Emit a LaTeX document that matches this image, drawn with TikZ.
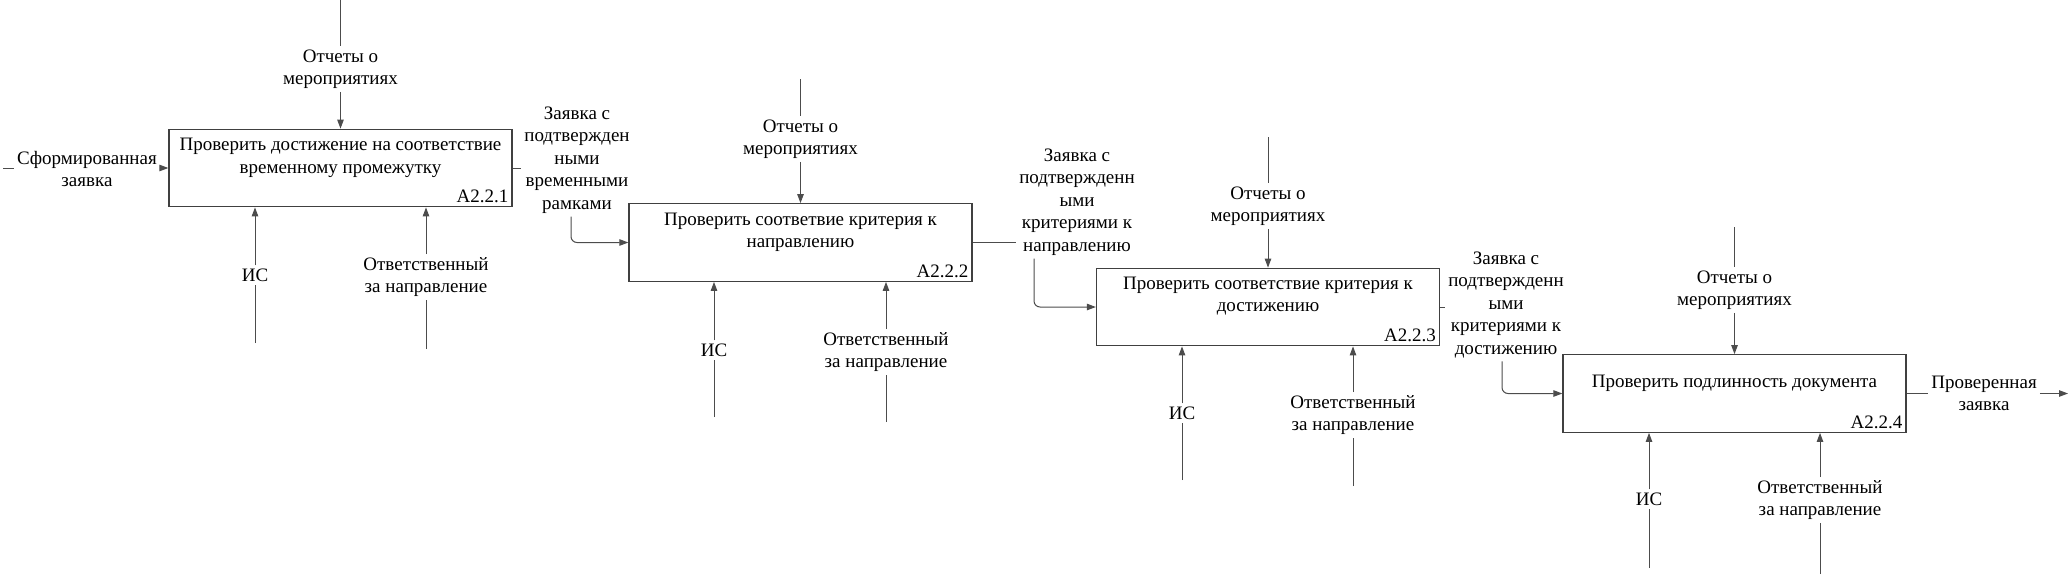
\documentclass[tikz,border=0pt]{standalone}
\usepackage{fontspec}
\setmainfont{Liberation Serif}
\newfontfamily\tnr{Liberation Serif}
\usetikzlibrary{arrows.meta}
\begin{document}
\begin{tikzpicture}[x=1pt,y=-1pt,
  every node/.style={font=\tnr\fontsize{19}{22.5}\selectfont},
  proc/.style={draw=black!75, line width=1.3pt, minimum width=343pt, minimum height=77.5pt, inner sep=0pt},
  lbl/.style={align=center, inner sep=3pt},
  conn/.style={draw=black!70, line width=1pt},
  arr/.style={conn, -{Triangle[length=9pt,width=6.5pt]}},
  ident/.style={anchor=south east, inner sep=4pt}]
\useasboundingbox (0,0) rectangle (2070,574);

% boxes
\node[proc] (b1) at (340.5,168) {};
\node[proc] (b2) at (800.5,242.5) {};
\node[proc] (b3) at (1268,307) {};
\node[proc] (b4) at (1734.5,393.5) {};

\node[lbl] (t1) at ([yshift=10pt]b1.center) {Проверить достижение на соответствие\\временному промежутку};
\node[lbl] (t2) at ([yshift=10pt]b2.center) {Проверить соответвие критерия к\\направлению};
\node[lbl] (t3) at ([yshift=11pt]b3.center) {Проверить соответствие критерия к\\достижению};
\node[lbl] (t4) at ([yshift=10pt]b4.center) {Проверить подлинность документа};

\node[ident] (id1) at (b1.south east) {A2.2.1};
\node[ident] (id2) at (b2.south east) {A2.2.2};
\node[ident] (id3) at (b3.south east) {A2.2.3};
\node[ident] (id4) at (b4.south east) {A2.2.4};

% controls (top)
\coordinate (c1) at (340.5,0);
\coordinate (c2) at (800.5,79);
\coordinate (c3) at (1268,137);
\coordinate (c4) at (1734.5,227);
\node[lbl] (m1) at (340.5,69) {Отчеты о\\мероприятиях};
\node[lbl] (m2) at (800.5,139) {Отчеты о\\мероприятиях};
\node[lbl] (m3) at (1268,206) {Отчеты о\\мероприятиях};
\node[lbl] (m4) at (1734.5,290) {Отчеты о\\мероприятиях};
\foreach \i in {1,2,3,4}{
  \draw[conn] (c\i) -- (m\i.north);
  \draw[arr] (m\i.south) -- (b\i.north);
}

% mechanisms (bottom)
\coordinate (s1) at (255,343);
\coordinate (s2) at (714,417);
\coordinate (s3) at (1182,480);
\coordinate (s4) at (1649,568);
\node[lbl] (is1) at (255,275) {ИС};
\node[lbl] (is2) at (714,350) {ИС};
\node[lbl] (is3) at (1182,413) {ИС};
\node[lbl] (is4) at (1649,499) {ИС};
\coordinate (r1) at (426,349);
\coordinate (r2) at (886,422);
\coordinate (r3) at (1353,486);
\coordinate (r4) at (1820,574);
\node[lbl] (o1r) at (426,277) {Ответственный\\за направление};
\node[lbl] (o2r) at (886,352) {Ответственный\\за направление};
\node[lbl] (o3r) at (1353,415) {Ответственный\\за направление};
\node[lbl] (o4r) at (1820,500) {Ответственный\\за направление};
\foreach \i in {1,2,3,4}{
  \draw[conn] (s\i) -- (is\i.south);
  \draw[arr] (is\i.north) -- (is\i.north |- b\i.south);
  \draw[conn] (r\i) -- (o\i r.south);
  \draw[arr] (o\i r.north) -- (o\i r.north |- b\i.south);
}

% input
\coordinate (in0) at (3,168);
\node[lbl] (inl) at (87,169) {Сформированная\\заявка};
\draw[conn] (in0) -- (inl.west |- in0);
\draw[arr] (inl.east |- b1.west) -- (b1.west);

% outputs / links
\node[lbl] (w1) at (577,160) {Заявка с\\подтвержден\\ными\\временными\\рамками};
\coordinate (w1x) at (571,0);
\draw[conn] (b1.east) -- (w1.west |- b1.east);
\draw[arr, rounded corners=6pt] (w1.south -| w1x) |- (b2.west);

\node[lbl] (w2) at (1077,202) {Заявка с\\подтвержденн\\ыми\\критериями к\\направлению};
\coordinate (w2x) at (1034,0);
\draw[conn] (b2.east) -- (w2.west |- b2.east);
\draw[arr, rounded corners=6pt] (w2.south -| w2x) |- (b3.west);

\node[lbl] (w3) at (1506,305) {Заявка с\\подтвержденн\\ыми\\критериями к\\достижению};
\coordinate (w3x) at (1502,0);
\draw[conn] (b3.east) -- (w3.west |- b3.east);
\draw[arr, rounded corners=6pt] (w3.south -| w3x) |- (b4.west);

\node[lbl] (w4) at (1984,393.5) {Проверенная\\заявка};
\coordinate (out4) at (2068,393.5);
\draw[conn] (b4.east) -- (w4.west |- b4.east);
\draw[arr] (w4.east |- b4.east) -- (out4);
\end{tikzpicture}
\end{document}
